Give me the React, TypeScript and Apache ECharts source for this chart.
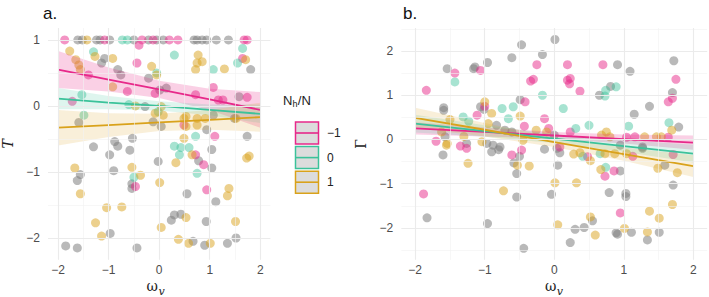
import React, { useEffect, useRef } from "react";
import * as echarts from "echarts";

// ---------- data ----------
const tickX = [-2, -1, 0, 1, 2];
const tickYA = [-2, -1, 0, 1];
const tickYB = [-2, -1, 0, 1, 2];
const minorX = [-1.5, -0.5, 0.5, 1.5];
const minorYA = [-1.5, -0.5, 0.5];
const minorYB = [-2.5, -1.5, -0.5, 0.5, 1.5, 2.5];

const groups = ["-1", "0", "1"];

// panel a (T)
const aNeg1: number[][] = [
  [-1.87, 1], [-1.08, 1], [-0.34, 1], [-0.12, 1], [0.2, 1], [0.37, 1], [1.68, 1], [1.74, 1],
  [-1.4, 0.47], [-0.63, 0.22], [-0.44, 0.65], [-0.4, 0.92], [-1.72, 0.07], [-0.08, 0.19],
  [0.49, -0.29], [0.72, 0.17], [1.07, 0.28], [1.1, -0.46], [1.17, 0.09], [1.26, 0.09],
  [1.65, 0.72], [1.74, 0.13], [0.72, -0.74], [0.88, -0.89], [-0.47, -1.22], [0.94, -1.27],
];
const aZero: number[][] = [
  [-0.73, 1], [-0.63, 1], [-1.3, 0.82], [-1.53, 0.17], [-1.49, -0.14], [-0.6, 0.02],
  [-0.05, 0.5], [-0.02, -0.09], [0.3, 0.77], [0.72, -0.46], [1.07, 0.55], [1.55, 0.65],
  [1.65, 0.87], [0.3, -0.61], [0.43, -0.63], [0.59, -0.63], [0.4, -0.74], [0.75, -1.02],
  [-0.5, -1.08],
];
const aPos1: number[][] = [
  [-1.43, 1], [-1.77, 0.83], [-1.65, 0.7], [-1.59, 0.62], [-1.56, 0.55], [-1.27, 0.75],
  [-0.92, 0.72], [-0.92, 0.29], [-0.15, 0.6], [-0.05, 0.47], [-0.47, 0.0], [-0.08, -0.11],
  [0.04, -0.01], [0.08, -0.14], [0.49, -0.19], [0.53, -0.16], [0.53, -0.31], [0.49, -0.49],
  [0.72, 0.55], [0.75, 0.65], [0.77, 0.77], [0.85, 0.67], [0.75, -0.19], [0.75, -0.29],
  [0.91, -0.19], [1.29, 0.56], [1.52, -0.19], [1.71, 0.7], [0.33, -0.86], [0.65, -0.74],
  [0.01, -1.16], [-1.67, -0.94], [-1.56, -1.33], [-0.54, -0.93], [-0.37, -1.05],
  [1.38, -1.25], [1.35, -1.36], [1.73, -0.79], [1.78, -0.76], [-1.04, -1.54], [-0.74, -1.53],
  [-1.26, -1.77], [-1.14, -1.97], [0.04, -1.84], [0.53, -1.69], [0.38, -2.02], [0.58, -2.08],
  [1.01, -2.08], [1.51, -1.75],
];
const aNA: number[][] = [
  [-1.61, 1], [-1.52, 1], [-1.24, 1], [-1.17, 1], [-0.98, 1], [-0.5, 1], [-0.21, 1], [-0.05, 1],
  [0.08, 1], [0.69, 1], [0.75, 1], [0.85, 1], [0.94, 1], [1.13, 1], [1.37, 1],
  [-1.14, 0.65], [-1.08, 0.72], [-0.82, 0.55], [-0.76, 0.47], [-0.21, 0.42], [-1.59, -0.25],
  [-0.88, -0.54], [-0.82, -0.61], [-0.53, -0.49], [-0.28, -0.01], [-0.12, -0.24], [0.01, 0.24],
  [0.04, -0.31], [0.14, 0.27], [0.94, -0.36], [1.07, -0.14], [1.49, -0.19], [1.58, 0.14],
  [1.81, 0.55], [1.74, -0.46], [-1.3, -0.62], [-0.98, -0.74], [-0.58, -0.67], [0.78, -0.83],
  [1.04, -0.66], [1.04, -0.94], [-0.02, -0.84], [-1.56, -1.04], [-1.62, -1.13], [-0.9, -0.98],
  [-0.54, -1.18], [-0.54, -1.25], [0.55, -1.33], [1.12, -1.45], [-0.97, -1.93], [-1.85, -2.12],
  [-1.62, -2.15], [-0.44, -2.15], [0.24, -1.73], [0.3, -1.65], [0.43, -1.64], [0.67, -2.05],
  [0.9, -2.11], [0.93, -1.75], [1.35, -2.08], [1.52, -2.0],
];

// panel b (Gamma)
const bNeg1: number[][] = [
  [-1.84, 1.11], [-1.43, 1.5], [-1.06, 1.56], [-1.0, 0.75], [-1.11, 0.55], [-0.42, 0.85],
  [-0.43, 0.3], [-0.34, 1.32], [-0.3, 1.36], [-0.25, 1.69], [-0.14, 0.47], [0.19, 1.69],
  [0.19, 1.34], [0.23, 1.38], [0.22, 1.26], [0.37, 1.09], [0.7, 1.69], [1.64, 0.85],
  [1.7, 0.93], [1.75, 1.36], [-1.7, -0.04], [-1.35, -0.15], [-0.08, 0.25], [0.08, -0.17],
  [0.23, 0.17], [1.04, 0.05], [1.16, 0.06], [1.64, 0.05], [-1.26, -0.2], [-0.61, -0.35],
  [-0.47, -0.24], [0.48, -0.39], [0.73, -0.83], [0.86, -0.71], [1.13, -0.38], [1.71, -0.34],
  [-1.88, -1.23], [0.95, -1.66],
];
const bZero: number[][] = [
  [-1.43, 1.3], [-1.31, 0.51], [-1.23, 0.41], [-0.75, 0.7], [-0.59, 0.74], [-0.66, 0.47],
  [-0.17, 1.0], [0.13, 0.7], [0.31, 0.25], [0.5, 0.32], [0.73, 0.98], [0.74, 1.11],
  [0.89, 1.19], [1.07, 0.3], [1.65, 0.38], [0.41, -0.38], [0.66, -0.32], [0.74, -0.63],
];
const bPos1: number[][] = [
  [-1.5, 0.45], [-1.0, 0.85], [-0.95, 0.36], [-0.9, 0.59], [-0.49, 0.53], [1.69, 0.21],
  [-1.62, 0.17], [-1.54, -0.09], [-1.55, -0.13], [-1.3, 0.07], [-1.04, -0.05], [-0.45, -0.02],
  [-0.26, 0.21], [-0.11, 0.17], [0.68, 0.1], [0.75, 0.17], [0.8, 0.06], [1.3, 0.06],
  [1.47, 0.06], [1.54, 0.06], [-1.24, -0.54], [-0.53, -0.58], [-0.36, -0.6], [0.28, -0.33],
  [0.37, -0.3], [0.52, -0.48], [0.73, -0.32], [0.67, -0.68], [1.04, -0.32], [0.87, -0.32],
  [1.49, -0.65], [1.77, -0.75], [-0.73, -1.16], [0.01, -0.98], [0.32, -0.98], [0.05, -1.93],
  [0.52, -1.75], [0.59, -2.16], [1.01, -2.01], [1.34, -2.09], [1.37, -1.62], [1.51, -1.78],
  [1.7, -1.47],
];
const bNA: number[][] = [
  [-1.54, 1.6], [-1.59, 0.72], [-1.59, 0.66], [-1.16, 1.6], [-1.14, 1.64], [-0.96, 1.74],
  [-1.01, 0.68], [-0.83, 0.32], [-0.61, 1.85], [-0.47, 2.14], [-0.49, 0.9], [-0.17, 1.92],
  [0.01, 2.26], [0.65, 1.0], [0.81, 1.2], [0.91, 1.69], [1.09, 1.54], [1.15, 0.57],
  [1.37, 0.75], [1.7, 1.06], [1.72, 1.78], [1.79, 0.28], [-1.06, 0.74], [-1.57, 0.06],
  [-1.26, -0.09], [-0.97, -0.09], [-0.88, -0.13], [-0.78, -0.17], [-0.71, 0.21], [-0.61, 0.17],
  [0.0, 0.1], [0.95, -0.13], [1.27, -0.17], [-1.6, -0.35], [-0.9, -0.28], [-0.8, -0.23],
  [-0.58, -0.53], [-0.54, -0.77], [-0.5, -0.38], [-0.14, -0.22], [0.04, -0.2], [0.08, -0.3],
  [0.05, -0.58], [0.95, -0.71], [1.27, -0.2], [1.59, -0.58], [1.71, -1.03], [-1.83, -1.77],
  [-0.54, -1.3], [-0.96, -1.9], [-0.44, -2.46], [-0.04, -1.24], [0.23, -2.33], [0.3, -2.03],
  [0.43, -1.99], [0.55, -1.84], [0.79, -1.2], [1.03, -1.22], [1.03, -1.29], [0.89, -2.11],
  [0.91, -2.14], [1.11, -2.1], [1.34, -2.27], [1.51, -2.1],
];

// fitted lines and confidence bands, sampled at fitX
const fitX = [-2, -1, 0, 1, 2];
const aFitNeg1 = [0.55, 0.4, 0.25, 0.1, -0.06];
const aLoNeg1 = [0.27, 0.22, 0.12, -0.06, -0.33];
const aHiNeg1 = [0.83, 0.58, 0.38, 0.26, 0.21];
const aFitZero = [0.11, 0.05, 0.0, -0.06, -0.12];
const aLoZero = [-0.05, -0.05, -0.07, -0.14, -0.26];
const aHiZero = [0.27, 0.15, 0.07, 0.02, 0.02];
const aFitPos1 = [-0.33, -0.29, -0.25, -0.21, -0.17];
const aLoPos1 = [-0.6, -0.47, -0.38, -0.36, -0.39];
const aHiPos1 = [-0.06, -0.11, -0.12, -0.06, 0.05];

const bFitNeg1 = [0.25, 0.17, 0.09, 0.01, -0.07];
const bLoNeg1 = [0.11, 0.07, 0.01, -0.09, -0.23];
const bHiNeg1 = [0.39, 0.27, 0.17, 0.11, 0.09];
const bFitZero = [0.36, 0.19, 0.02, -0.15, -0.32];
const bLoZero = [0.16, 0.06, -0.08, -0.28, -0.52];
const bHiZero = [0.56, 0.32, 0.12, -0.02, -0.12];
const bFitPos1 = [0.49, 0.22, -0.06, -0.33, -0.6];
const bLoPos1 = [0.26, 0.07, -0.17, -0.48, -0.85];
const bHiPos1 = [0.72, 0.37, 0.05, -0.18, -0.35];

// ---------- style ----------
const COLORS = ["#E7298A", "#3CC29A", "#D9A21B"];
const GREY = "#7f7f7f";
const LABEL_FONT = "'Liberation Sans', Arial, sans-serif";
const SERIF = "'DejaVu Serif', 'Liberation Serif', serif";

const minusFmt = (v: number) => String(v).replace("-", "\u2212");

export default function App() {
  const ref = useRef<HTMLDivElement>(null);

  useEffect(() => {
    if (!ref.current) return;
    const chart = echarts.init(ref.current, undefined, { renderer: "svg" });

    const gridLines = (idx: number, minorY: number[], majorY: number[]) => [
      {
        type: "line",
        xAxisIndex: idx,
        yAxisIndex: idx,
        data: [],
        z: 0,
        silent: true,
        markLine: {
          silent: true,
          symbol: "none",
          label: { show: false },
          animation: false,
          lineStyle: { type: "solid", color: "#f2f2f2", width: 0.6 },
          data: [
            ...minorX.map((v) => ({ xAxis: v })),
            ...minorY.map((v) => ({ yAxis: v })),
          ],
        },
      },
      {
        type: "line",
        xAxisIndex: idx,
        yAxisIndex: idx,
        data: [],
        z: 0,
        silent: true,
        markLine: {
          silent: true,
          symbol: "none",
          label: { show: false },
          animation: false,
          lineStyle: { type: "solid", color: "#ebebeb", width: 1.1 },
          data: [
            ...tickX.map((v) => ({ xAxis: v })),
            ...majorY.map((v) => ({ yAxis: v })),
          ],
        },
      },
    ];

    const scatter = (idx: number, data: number[][], color: string, opacity: number) => ({
      type: "scatter",
      xAxisIndex: idx,
      yAxisIndex: idx,
      data,
      symbolSize: 9,
      z: 2,
      silent: true,
      itemStyle: { color, opacity },
    });

    const band = (idx: number, lo: number[], hi: number[], color: string, opacity: number) => ({
      type: "custom",
      xAxisIndex: idx,
      yAxisIndex: idx,
      z: 3,
      silent: true,
      clip: true,
      data: fitX.map((x, i) => [x, lo[i], hi[i]]),
      encode: { x: 0, y: [1, 2] },
      renderItem: (params: any, api: any) => {
        if (params.dataIndex !== 0) return null;
        const top = fitX.map((x, i) => api.coord([x, hi[i]]));
        const bottom = fitX.map((x, i) => api.coord([x, lo[i]])).reverse();
        return {
          type: "polygon",
          shape: { points: [...top, ...bottom] },
          style: { fill: color, opacity },
        };
      },
    });

    const fit = (idx: number, ys: number[], color: string) => ({
      type: "line",
      xAxisIndex: idx,
      yAxisIndex: idx,
      data: fitX.map((x, i) => [x, ys[i]]),
      symbol: "none",
      z: 4,
      silent: true,
      lineStyle: { color, width: 1.8 },
    });

    const xAxis = (idx: number) => ({
      type: "value",
      gridIndex: idx,
      min: -2.2,
      max: 2.2,
      splitLine: { show: false },
      axisLine: { show: false },
      axisTick: { show: false },
      axisLabel: {
        customValues: tickX,
        formatter: minusFmt,
        color: "#4d4d4d",
        fontSize: 12,
        fontFamily: LABEL_FONT,
        margin: 4,
      },
    });

    const yAxis = (idx: number, min: number, max: number, ticks: number[], name: string, italic: boolean) => ({
      type: "value",
      gridIndex: idx,
      min,
      max,
      splitLine: { show: false },
      axisLine: { show: false },
      axisTick: { show: false },
      axisLabel: {
        customValues: ticks,
        formatter: minusFmt,
        color: "#4d4d4d",
        fontSize: 12,
        fontFamily: LABEL_FONT,
        margin: 8,
      },
      name,
      nameLocation: "middle",
      nameGap: 33,
      nameRotate: 90,
      nameTextStyle: {
        fontFamily: SERIF,
        fontStyle: italic ? "italic" : "normal",
        fontSize: 14,
        color: "#222",
      },
    });

    const aPts = [aNeg1, aZero, aPos1];
    const bPts = [bNeg1, bZero, bPos1];
    const aBands = [
      [aLoNeg1, aHiNeg1, aFitNeg1],
      [aLoZero, aHiZero, aFitZero],
      [aLoPos1, aHiPos1, aFitPos1],
    ];
    const bBands = [
      [bLoNeg1, bHiNeg1, bFitNeg1],
      [bLoZero, bHiZero, bFitZero],
      [bLoPos1, bHiPos1, bFitPos1],
    ];
    const ptOpacity = [0.5, 0.45, 0.5];
    const bandOpacity = [0.22, 0.17, 0.17];

    const series: any[] = [
      ...gridLines(0, minorYA, tickYA),
      ...gridLines(1, minorYB, tickYB),
      scatter(0, aNA, GREY, 0.55),
      scatter(1, bNA, GREY, 0.55),
    ];
    groups.forEach((_, g) => {
      series.push(scatter(0, aPts[g], COLORS[g], ptOpacity[g]));
      series.push(scatter(1, bPts[g], COLORS[g], ptOpacity[g]));
    });
    groups.forEach((_, g) => {
      series.push(band(0, aBands[g][0], aBands[g][1], COLORS[g], bandOpacity[g]));
      series.push(band(1, bBands[g][0], bBands[g][1], COLORS[g], bandOpacity[g]));
    });
    groups.forEach((_, g) => {
      series.push(fit(0, aBands[g][2], COLORS[g]));
      series.push(fit(1, bBands[g][2], COLORS[g]));
    });

    const graphics: any[] = [];
    // x axis titles: omega with italic subscript v
    [156, 554.3].forEach((cx) => {
      graphics.push({
        type: "text",
        x: cx + 2,
        y: 286,
        style: {
          text: "\u03c9",
          fontFamily: SERIF,
          fontSize: 14,
          fill: "#222",
          align: "right",
          verticalAlign: "middle",
        },
      });
      graphics.push({
        type: "text",
        x: cx + 2.5,
        y: 291,
        style: {
          text: "v",
          fontFamily: SERIF,
          fontStyle: "italic",
          fontSize: 11,
          fill: "#222",
          align: "left",
          verticalAlign: "middle",
        },
      });
    });
    // legend title N_h/N
    graphics.push({
      type: "text",
      x: 283,
      y: 100,
      style: { text: "N", fontFamily: LABEL_FONT, fontSize: 13, fill: "#222", verticalAlign: "middle" },
    });
    graphics.push({
      type: "text",
      x: 292.5,
      y: 104,
      style: { text: "h", fontFamily: LABEL_FONT, fontSize: 9, fill: "#222", verticalAlign: "middle" },
    });
    graphics.push({
      type: "text",
      x: 297.8,
      y: 100,
      style: { text: "/N", fontFamily: LABEL_FONT, fontSize: 13, fill: "#222", verticalAlign: "middle" },
    });
    groups.forEach((g, i) => {
      const y0 = 122 + i * 24.6;
      graphics.push({
        type: "rect",
        shape: { x: 295.5, y: y0, width: 23, height: 22 },
        style: { fill: "#dcdcdc", stroke: COLORS[i], lineWidth: 1.5 },
      });
      graphics.push({
        type: "line",
        shape: { x1: 296, y1: y0 + 11, x2: 318.5, y2: y0 + 11 },
        style: { stroke: COLORS[i], lineWidth: 1.6 },
      });
      graphics.push({
        type: "text",
        x: 327,
        y: y0 + 11,
        style: {
          text: minusFmt(Number(g)),
          fontFamily: LABEL_FONT,
          fontSize: 12,
          fill: "#222",
          verticalAlign: "middle",
        },
      });
    });

    chart.setOption({
      animation: false,
      backgroundColor: "#ffffff",
      grid: [
        { left: 41.6, top: 28, width: 228.8, height: 231.8 },
        { left: 401.3, top: 28, width: 305.9, height: 231.8 },
      ],
      xAxis: [xAxis(0), xAxis(1)],
      yAxis: [
        yAxis(0, -2.33, 1.18, tickYA, "T", true),
        yAxis(1, -2.72, 2.52, tickYB, "\u0393", false),
      ],
      title: [
        { text: "a.", left: 38, top: 0, textStyle: { fontFamily: LABEL_FONT, fontSize: 17, fontWeight: "normal", color: "#111" } },
        { text: "b.", left: 398, top: 0, textStyle: { fontFamily: LABEL_FONT, fontSize: 17, fontWeight: "normal", color: "#111" } },
      ],
      graphic: graphics,
      series,
    });

    return () => chart.dispose();
  }, []);

  return (
    <div
      ref={ref}
      style={{ position: "absolute", left: 0, top: 0, width: 709, height: 297, background: "#fff" }}
    />
  );
}
